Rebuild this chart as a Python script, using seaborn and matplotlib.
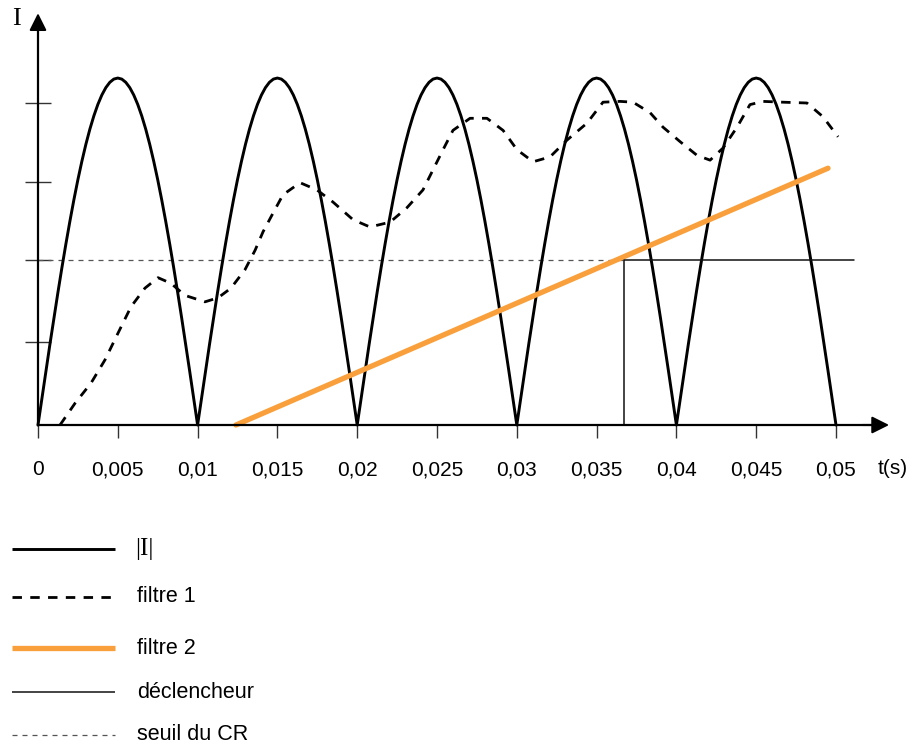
import numpy as np
import pandas as pd
import matplotlib
matplotlib.use("Agg")
import matplotlib.pyplot as plt
from matplotlib.lines import Line2D
import seaborn as sns

sns.set_style("white")
plt.rcParams['font.family'] = ['Liberation Sans', 'DejaVu Sans']
plt.rcParams['text.color'] = 'black'
plt.rcParams['xtick.color'] = 'black'
plt.rcParams['ytick.color'] = 'black'

# --- data ---
# |I| : one arch of the rectified current, sampled every 0.25 ms (5 identical arches)
arch = [0, 0.338, 0.674, 1.006, 1.332, 1.649, 1.957, 2.252, 2.533, 2.799, 3.048,
        3.277, 3.487, 3.675, 3.840, 3.982, 4.099, 4.191, 4.257, 4.297, 4.310,
        4.297, 4.257, 4.191, 4.099, 3.982, 3.840, 3.675, 3.487, 3.277, 3.048,
        2.799, 2.533, 2.252, 1.957, 1.649, 1.332, 1.006, 0.674, 0.338, 0]
n_arches = 5
i_abs = arch[:-1] * n_arches + [0]
t_abs = np.linspace(0, 0.05, len(i_abs))

# filtre 1 (dashed)
t_f1 = [0.00138, 0.00232, 0.00332, 0.00420, 0.00501, 0.00583, 0.00670, 0.00752,
        0.00833, 0.00921, 0.01046, 0.01128, 0.01209, 0.01297, 0.01360, 0.01410,
        0.01472, 0.01535, 0.01642, 0.01748, 0.01848, 0.01974, 0.02080, 0.02206,
        0.02312, 0.02412, 0.02475, 0.02538, 0.02600, 0.02707, 0.02813, 0.02914,
        0.03001, 0.03102, 0.03208, 0.03315, 0.03440, 0.03540, 0.03647, 0.03728,
        0.03835, 0.03916, 0.04023, 0.04129, 0.04211, 0.04292, 0.04380, 0.04461,
        0.04543, 0.04668, 0.04818, 0.04918, 0.05013]
i_f1 = [0.0, 0.27, 0.52, 0.81, 1.14, 1.47, 1.70, 1.83,
        1.76, 1.61, 1.53, 1.58, 1.70, 1.93, 2.17, 2.40,
        2.63, 2.86, 3.01, 2.92, 2.77, 2.55, 2.46, 2.52,
        2.70, 2.92, 3.17, 3.42, 3.66, 3.81, 3.81, 3.66,
        3.42, 3.27, 3.33, 3.54, 3.75, 4.01, 4.02, 4.01,
        3.88, 3.70, 3.52, 3.35, 3.29, 3.44, 3.70, 3.98,
        4.02, 4.01, 4.00, 3.83, 3.58]

# filtre 2 (orange ramp)
t_f2 = [0.0124, 0.0495]
i_f2 = [0.0, 3.19]

# déclencheur and seuil du CR
seuil = 2.05
t_decl = [0.0367, 0.0367, 0.0511]
i_decl = [0.0, seuil, seuil]
t_seuil = [0.0, 0.0367]
i_seuil = [seuil, seuil]

x_ticks = [0, 0.005, 0.01, 0.015, 0.02, 0.025, 0.03, 0.035, 0.04, 0.045, 0.05]
x_labels = ['0', '0,005', '0,01', '0,015', '0,02', '0,025', '0,03', '0,035', '0,04', '0,045', '0,05']
half_ticks = [0.005, 0.015, 0.025, 0.035, 0.045, 0.05]
y_ticks = [1.03, 2.05, 3.02, 4.0]

orange = '#F9A03C'
dash_f1 = (0, (3.4, 3.0))
dash_seuil = (0, (4, 4))

# --- figure ---
W, H = 923, 745
fig = plt.figure(figsize=(W / 100, H / 100), dpi=100)
ax = fig.add_axes([0, 0, 1, 1])
ax.set_xlim(-38 / 15960, 885 / 15960)
ax.set_ylim(-320 / 80.5, 425 / 80.5)

sns.lineplot(x=t_seuil, y=i_seuil, ax=ax, color='#555555', lw=0.9,
             linestyle=dash_seuil, sort=False, estimator=None)
sns.lineplot(x=t_abs, y=i_abs, ax=ax, color='black', lw=2.1, sort=False, estimator=None)
sns.lineplot(x=t_f1, y=i_f1, ax=ax, color='black', lw=2.0,
             linestyle=dash_f1, sort=False, estimator=None)
sns.lineplot(x=t_f2, y=i_f2, ax=ax, color=orange, lw=3.8, sort=False, estimator=None)
sns.lineplot(x=t_decl, y=i_decl, ax=ax, color='#111111', lw=1.1, sort=False, estimator=None)

# axes as arrows
for s in ['top', 'right']:
    ax.spines[s].set_visible(False)
ax.spines['left'].set_position(('data', 0))
ax.spines['bottom'].set_position(('data', 0))
ax.spines['left'].set_bounds(0, 5.0)
ax.spines['bottom'].set_bounds(0, 0.0525)
for s in ['left', 'bottom']:
    ax.spines[s].set_linewidth(1.6)
    ax.spines[s].set_color('black')
ax.annotate('', xy=(0.0535, 0), xytext=(0.0515, 0),
            arrowprops=dict(arrowstyle='-|>', color='black', lw=1.5, mutation_scale=26))
ax.annotate('', xy=(0, 5.15), xytext=(0, 4.9),
            arrowprops=dict(arrowstyle='-|>', color='black', lw=1.5, mutation_scale=26))

ax.set_xticks(x_ticks)
ax.set_xticklabels(x_labels)
ax.set_xticks(half_ticks, minor=True)
ax.tick_params(axis='x', which='major', direction='out', length=9.4, width=1.0,
               color='#333333', labelsize=15, pad=16, bottom=True)
ax.tick_params(axis='x', which='minor', direction='in', length=9.4, width=1.0,
               color='#333333', bottom=True)
ax.set_yticks(y_ticks)
ax.set_yticklabels([])
ax.tick_params(axis='y', which='major', direction='inout', length=18.7, width=1.0,
               color='#333333', left=True)
ax.set_xlabel('')
ax.set_ylabel('')

ax.text(878 / W, 1 - 468 / H, 't(s)', transform=ax.transAxes, fontsize=15,
        ha='left', va='center')
ax.text(16 / W, 1 - 19 / H, 'I', transform=ax.transAxes, fontsize=19,
        family=['Liberation Serif', 'DejaVu Serif'], ha='center', va='center')

# legend drawn by hand below the plot
rows = [
    (549, dict(color='black', lw=2.1, ls='-'), '|I|'),
    (597, dict(color='black', lw=2.0, ls=dash_f1), 'filtre 1'),
    (648, dict(color=orange, lw=3.8, ls='-'), 'filtre 2'),
    (692, dict(color='#111111', lw=1.1, ls='-'), 'déclencheur'),
    (735, dict(color='#555555', lw=0.9, ls=dash_seuil), 'seuil du CR'),
]
for py, style, label in rows:
    y = 1 - py / H
    fig.add_artist(Line2D([12 / W, 115 / W], [y, y], transform=fig.transFigure,
                          solid_capstyle='butt', dash_capstyle='butt', **style))
    if label == '|I|':
        fig.text(135 / W, y, label, fontsize=18, va='center', ha='left',
                 family=['Liberation Serif', 'DejaVu Serif'])
    else:
        fig.text(137 / W, y, label, fontsize=15.5, va='center', ha='left')

fig.savefig('out.png', dpi=100)
